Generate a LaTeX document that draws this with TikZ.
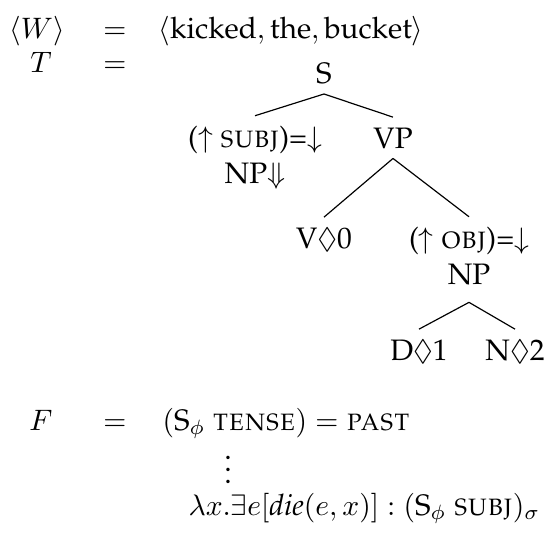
\documentclass[tikz,border=0pt]{standalone}
\usepackage{amsmath,amssymb}
\usepackage[T1]{fontenc}
\usepackage{palatino}
\begin{document}
\begin{tikzpicture}[x=0.338pt,y=-0.338pt,
  txt/.style={inner sep=0pt,anchor=base},
  cat/.style={inner xsep=2pt,inner ysep=3.3pt,anchor=base,align=center}]
  \useasboundingbox (0,0) rectangle (544,533);
  \node[txt] (wlhs) at (37,38) {$\langle W\rangle$};
  \node[txt] (weq) at (115,38) {$=$};
  \node[txt,anchor=base west] (wrhs) at (158,38) {$\langle\text{kicked},\text{the},\text{bucket}\rangle$};
  \node[txt] (tlhs) at (41,72) {$T$};
  \node[txt] (teq) at (115,72) {$=$};
  \node[cat] (s) at (324,83) {S};
  \node[cat] (subj) at (255,183) {($\uparrow$ \textsc{subj})=$\downarrow$\\NP$\Downarrow$};
  \node[cat] (vp) at (393,148) {VP};
  \node[cat] (v) at (324,248) {V$\lozenge$0};
  \node[cat,text depth=2.7pt] (obj) at (469,284) {($\uparrow$ \textsc{obj})=$\downarrow$\\NP};
  \node[cat] (d) at (419,360) {D$\lozenge$1};
  \node[cat] (n) at (515,360) {N$\lozenge$2};
  \draw (s.south) -- (subj.north);
  \draw (s.south) -- (vp.north);
  \draw (vp.south) -- (v.north);
  \draw (vp.south) -- (obj.north);
  \draw (obj.south) -- (d.north);
  \draw (obj.south) -- (n.north);
  \node[txt] (flhs) at (41,430) {$F$};
  \node[txt] (feq) at (115,430) {$=$};
  \node[txt,anchor=base west] (tense) at (162,430) {$(\textrm{S}_\phi\ \textsc{tense}) = \textsc{past}$};
  \node[txt] (dots) at (228,483) {$\vdots$};
  \node[txt,anchor=base west] (glue) at (188,515) {$\lambda x.\exists e[\textit{die}(e,x)] : (\textrm{S}_\phi\ \textsc{subj})_\sigma$};
\end{tikzpicture}
\end{document}
